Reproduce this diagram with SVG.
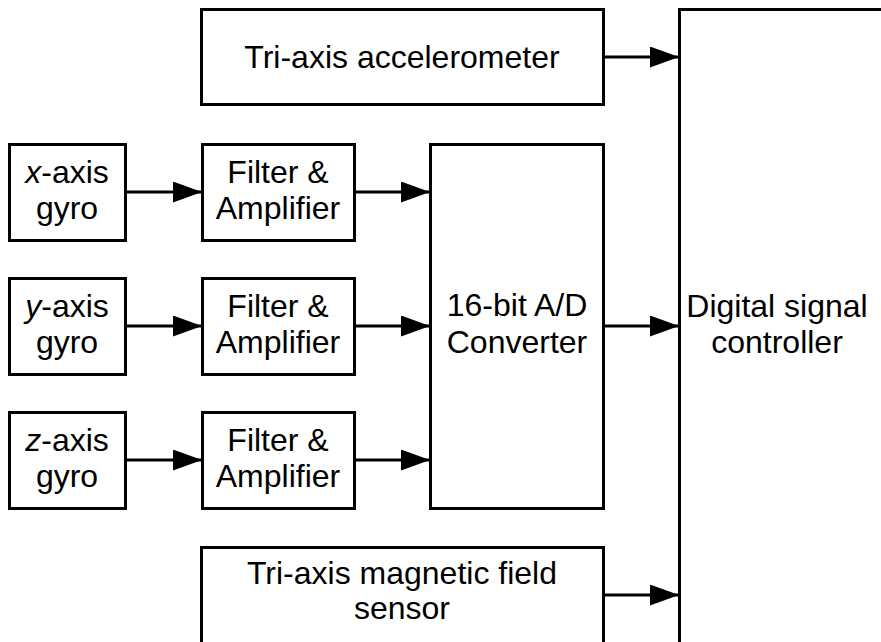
<svg xmlns="http://www.w3.org/2000/svg" width="881" height="642" viewBox="0 0 881 642">
  <style>
    .box { fill: #ffffff; stroke: #000000; stroke-width: 3; }
    .lbl { font-family: "Liberation Sans", Arial, sans-serif; font-size: 32px; fill: #000000; text-anchor: middle; }
    .wire { stroke: #000000; stroke-width: 3; fill: none; marker-end: url(#arrow); }
  </style>
  <defs>
    <marker id="arrow" markerUnits="userSpaceOnUse" markerWidth="30" markerHeight="22" refX="29" refY="10.5" orient="auto">
      <path d="M0,0 L29,10.5 L0,21 Z" fill="#000000"/>
    </marker>
  </defs>
  <rect width="881" height="642" fill="#ffffff"/>

  <!-- connectors -->
  <g id="connectors">
    <line class="wire" x1="603" y1="57" x2="679" y2="57"/>
    <line class="wire" x1="125" y1="192" x2="202" y2="192"/>
    <line class="wire" x1="125" y1="326" x2="202" y2="326"/>
    <line class="wire" x1="125" y1="460" x2="202" y2="460"/>
    <line class="wire" x1="354" y1="192" x2="430" y2="192"/>
    <line class="wire" x1="354" y1="326" x2="430" y2="326"/>
    <line class="wire" x1="354" y1="460" x2="430" y2="460"/>
    <line class="wire" x1="603" y1="326" x2="679" y2="326"/>
    <line class="wire" x1="603" y1="595" x2="679" y2="595"/>
  </g>

  <g id="accelerometer">
    <rect class="box" x="201.5" y="9.5" width="402" height="95"/>
    <text class="lbl" x="402" y="68">Tri-axis accelerometer</text>
  </g>

  <g id="dsc">
    <rect class="box" x="679.5" y="9.5" width="240" height="660"/>
    <text class="lbl" x="777" y="317">Digital signal</text>
    <text class="lbl" x="777" y="353">controller</text>
  </g>

  <g id="x-gyro">
    <rect class="box" x="9.5" y="144.5" width="116" height="96"/>
    <text class="lbl" x="67" y="183"><tspan font-style="italic">x</tspan>-axis</text>
    <text class="lbl" x="67" y="219">gyro</text>
  </g>
  <g id="y-gyro">
    <rect class="box" x="9.5" y="278.5" width="116" height="96"/>
    <text class="lbl" x="67" y="317"><tspan font-style="italic">y</tspan>-axis</text>
    <text class="lbl" x="67" y="353">gyro</text>
  </g>
  <g id="z-gyro">
    <rect class="box" x="9.5" y="412.5" width="116" height="96"/>
    <text class="lbl" x="67" y="451"><tspan font-style="italic">z</tspan>-axis</text>
    <text class="lbl" x="67" y="487">gyro</text>
  </g>

  <g id="filter-x">
    <rect class="box" x="202.5" y="144.5" width="152" height="96"/>
    <text class="lbl" x="278" y="183">Filter &amp;</text>
    <text class="lbl" x="278" y="219">Amplifier</text>
  </g>
  <g id="filter-y">
    <rect class="box" x="202.5" y="278.5" width="152" height="96"/>
    <text class="lbl" x="278" y="317">Filter &amp;</text>
    <text class="lbl" x="278" y="353">Amplifier</text>
  </g>
  <g id="filter-z">
    <rect class="box" x="202.5" y="412.5" width="152" height="96"/>
    <text class="lbl" x="278" y="451">Filter &amp;</text>
    <text class="lbl" x="278" y="487">Amplifier</text>
  </g>

  <g id="adc">
    <rect class="box" x="430.5" y="144.5" width="173" height="364"/>
    <text class="lbl" x="517" y="316">16-bit A/D</text>
    <text class="lbl" x="517" y="353">Converter</text>
  </g>

  <g id="magnetometer">
    <rect class="box" x="201.5" y="547.5" width="402" height="120"/>
    <text class="lbl" x="402" y="584">Tri-axis magnetic field</text>
    <text class="lbl" x="402" y="619">sensor</text>
  </g>
</svg>
